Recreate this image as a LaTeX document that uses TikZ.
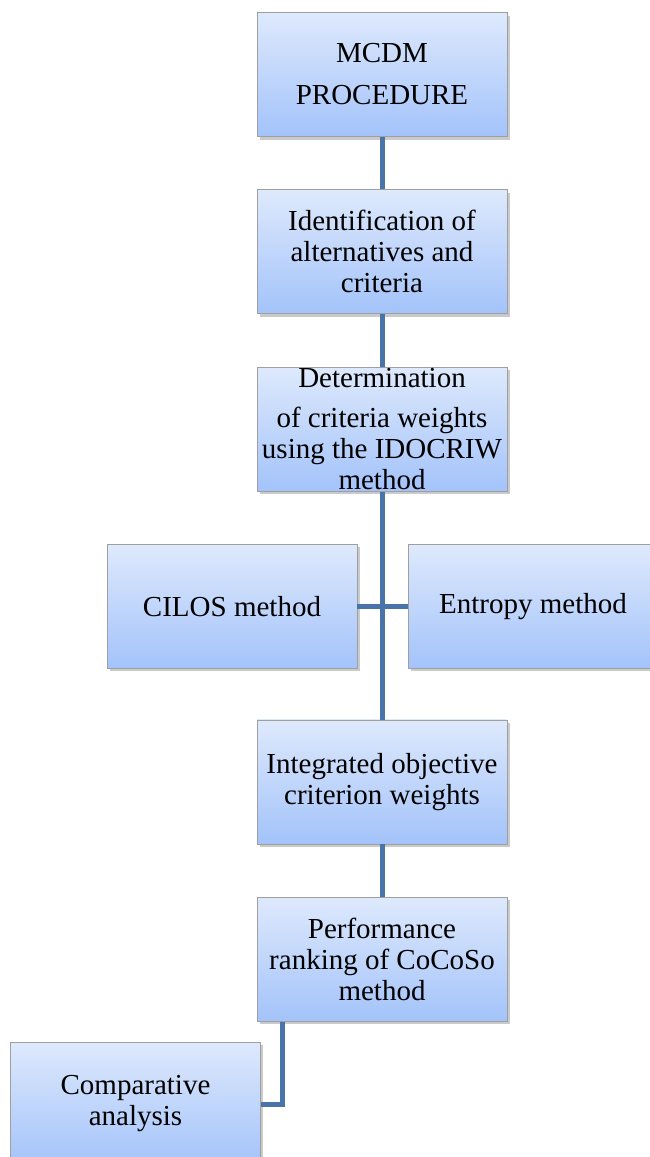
\documentclass[tikz,border=0pt]{standalone}
\usepackage{fontspec}
\setmainfont{Liberation Serif}
\usetikzlibrary{positioning,shadows}
\definecolor{boxtop}{RGB}{222,233,252}
\definecolor{boxbottom}{RGB}{163,195,250}
\definecolor{linkblue}{RGB}{72,116,170}

\begin{document}
\begin{tikzpicture}[
    node distance=52.5pt,
    box/.style={rectangle, draw=gray!75, line width=0.8pt, top color=boxtop, bottom color=boxbottom, minimum width=250pt, minimum height=124pt, inner sep=0pt, align=center, font=\fontsize{29pt}{31pt}\selectfont, drop shadow={shadow xshift=2.5pt, shadow yshift=-3pt, opacity=0.35, fill=black!60}},
    link/.style={line width=5pt, linkblue}
]
    \useasboundingbox (0,0) rectangle (650pt,-1157pt);

    \node[box] (mcdm) at (382pt,-74.5pt) {MCDM\\[11pt]PROCEDURE};
    \node[box, below=of mcdm] (ident) {Identification of\\alternatives and\\criteria};
    \node[box, below=of ident] (determ) {Determination\\[9pt]of criteria weights\\using the IDOCRIW\\method};
    \node[box, below=of determ, xshift=-150pt] (cilos) {CILOS method};
    \node[box, below=of determ, xshift=151pt] (entropy) {Entropy method};
    \node[box, below=228pt of determ] (integ) {Integrated objective\\criterion weights};
    \node[box, below=of integ] (perf) {Performance\\ranking of CoCoSo\\method};
    \node[box, below=20pt of perf, xshift=-246.5pt] (comp) {Comparative\\analysis};

    \draw[link] (mcdm) -- (ident);
    \draw[link] (ident) -- (determ);
    \draw[link] (determ) -- (integ);
    \draw[link] (cilos) -- (entropy);
    \draw[link] (integ) -- (perf);
    \draw[link] ([xshift=26pt]perf.south west) |- (comp.east);
\end{tikzpicture}
\end{document}
